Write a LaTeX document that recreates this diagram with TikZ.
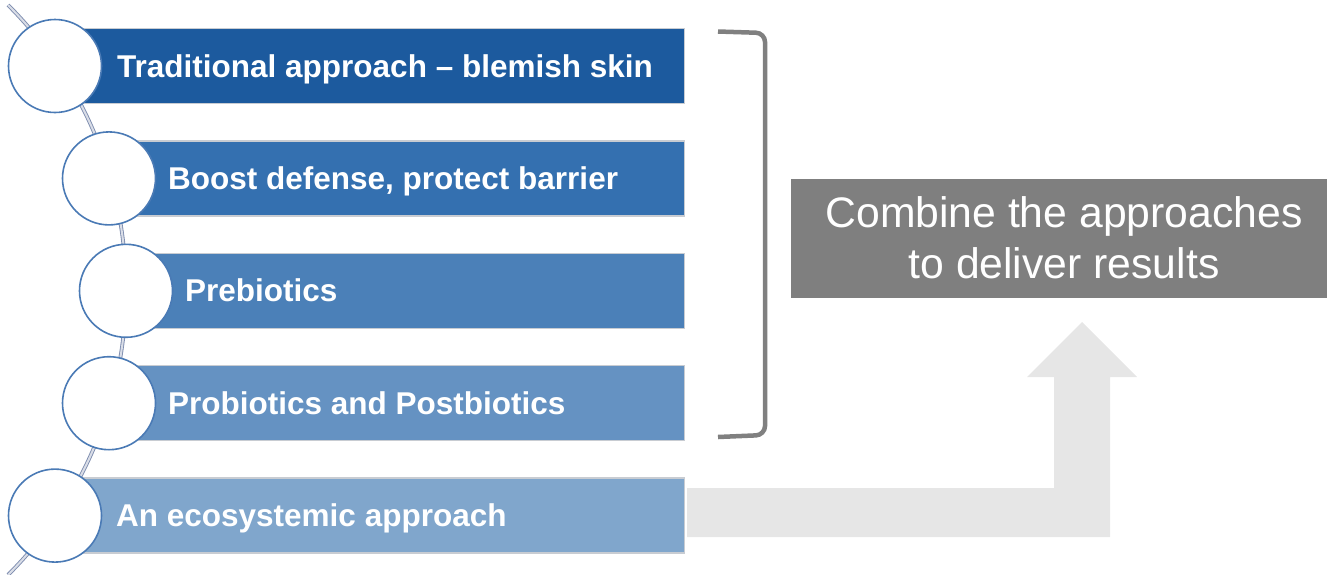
\documentclass[tikz,border=0pt]{standalone}
\usepackage{fontspec}
\setmainfont{Liberation Sans}
\definecolor{cA}{HTML}{1C5A9E}
\definecolor{cB}{HTML}{3470B0}
\definecolor{cC}{HTML}{4B80B8}
\definecolor{cD}{HTML}{6592C2}
\definecolor{cE}{HTML}{80A6CC}
\definecolor{ringblue}{HTML}{4A7AB5}
\definecolor{tubeedge}{HTML}{7D8CAE}
\definecolor{tubefill}{HTML}{D9DDE7}
\definecolor{bracketgray}{HTML}{808080}
\definecolor{boxgray}{HTML}{7F7F7F}
\definecolor{arrowgray}{HTML}{E6E6E6}
\definecolor{barrim}{HTML}{C8CCD2}
\tikzset{
  barbox/.style={draw=barrim, line width=1.3pt, minimum height=75pt, inner sep=0pt, anchor=east},
  bartext/.style={text=white, font=\fontsize{31.5}{37}\selectfont\bfseries, inner sep=0pt, anchor=base west},
  ring/.style={circle, draw=ringblue, line width=1.6pt, fill=white, minimum size=93pt, inner sep=0pt},
  tube/.style={draw=tubeedge, line width=0.9pt, double=tubefill, double distance=2pt},
}
\begin{document}
\begin{tikzpicture}[x=1pt,y=-1pt]
\useasboundingbox (0,0) rectangle (1327,574);
% bent arrow
\fill[arrowgray] (687,488) -- (1054,488) -- (1054,377) -- (1027,377) -- (1082,322)
  -- (1137,377) -- (1110,377) -- (1110,537) -- (687,537) -- cycle;
% bars
\node[barbox, fill=cA, minimum width=630pt] (b1) at (685,66) {};
\node[barbox, fill=cB, minimum width=576pt] (b2) at (685,178.4) {};
\node[barbox, fill=cC, minimum width=559pt] (b3) at (685,290.8) {};
\node[barbox, fill=cD, minimum width=576pt] (b4) at (685,403.2) {};
\node[barbox, fill=cE, minimum width=630pt] (b5) at (685,515.6) {};
% string of circles
\coordinate (arcstart) at (8,5);
\draw[tube] (arcstart) arc[start angle=-45, end angle=45, radius=403];
\node[ring] (r1) at (55,66) {};
\node[ring] (r2) at (109,178.4) {};
\node[ring] (r3) at (126,290.8) {};
\node[ring] (r4) at (109,403.2) {};
\node[ring] (r5) at (55,515.6) {};
% labels
\node[bartext] (t1) at (117,77) {Traditional approach – blemish skin};
\node[bartext] (t2) at (168,189.4) {Boost defense, protect barrier};
\node[bartext] (t3) at (185,301.8) {Prebiotics};
\node[bartext] (t4) at (168,414.2) {Probiotics and Postbiotics};
\node[bartext] (t5) at (116,526.6) {An ecosystemic approach};
% bracket
\coordinate (k1) at (718,31.5);
\coordinate (k2) at (765,33);
\coordinate (k3) at (765,435);
\coordinate (k4) at (718,437);
\draw[bracketgray, line width=4.5pt, rounded corners=9pt] (k1) -- (k2) -- (k3) -- (k4);
% result box
\node[fill=boxgray, minimum width=536pt, minimum height=119pt, inner sep=0pt, anchor=north west] (res) at (791,179) {};
\node[text=white, align=center, inner sep=0pt, font=\fontsize{42.7}{51}\selectfont] (restext) at (1064,238) {Combine the approaches\\to deliver results};
\end{tikzpicture}
\end{document}
